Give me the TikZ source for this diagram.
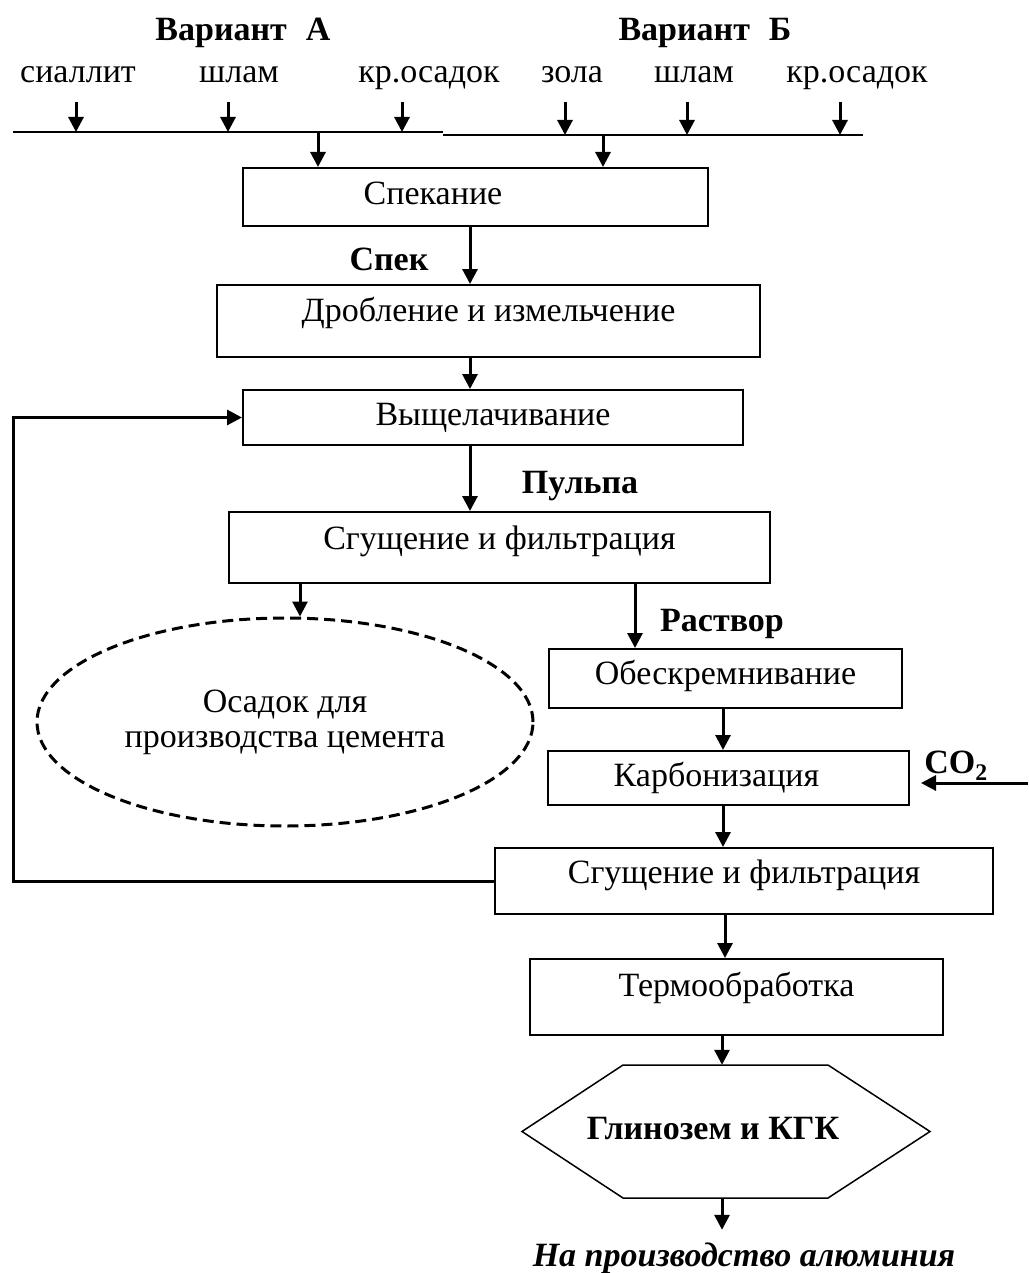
\documentclass[tikz,border=0pt]{standalone}
\usepackage{fontspec}
\setmainfont{Liberation Serif}
\usetikzlibrary{arrows.meta,shapes.geometric}
\newcommand{\flowfs}{\fontsize{34}{35}\selectfont}
\tikzset{
  stage/.style={draw, line width=2pt, inner sep=0pt, font=\flowfs, text height=24pt, text depth=8pt},
  feed/.style={inner sep=0pt, font=\flowfs, text height=24pt, text depth=8pt},
  stream/.style={inner sep=0pt, font=\flowfs\bfseries, text height=24pt, text depth=8pt},
  flow/.style={line width=3pt, -{Triangle[length=15pt,width=15pt]}},
}
\begin{document}
\begin{tikzpicture}[x=1pt,y=-1pt]
\useasboundingbox (0,0) rectangle (1028,1273) ;

%variant headers
\node [stream] (varA) at (243,33) {Вариант\hspace{19pt}А} ;
\node [stream] (varB) at (705,33) {Вариант\hspace{19pt}Б} ;

%raw materials
\node [feed] (sial) at (78,75) {сиаллит} ;
\node [feed] (shlamA) at (239,75) {шлам} ;
\node [feed] (osadA) at (429,75) {кр.осадок} ;
\node [feed] (zola) at (572,75) {зола} ;
\node [feed] (shlamB) at (694,75) {шлам} ;
\node [feed] (osadB) at (857,75) {кр.осадок} ;

%collecting lines
\coordinate (busA) at (13,132) ;
\coordinate (busAe) at (443,132) ;
\coordinate (busB) at (443,135) ;
\coordinate (busBe) at (863,135) ;
\draw [line width=2pt] (busA) -- (busAe) ;
\draw [line width=2pt] (busB) -- (busBe) ;

\draw [flow,shorten <=11pt] (sial.south -| 76,0) -- (busA -| 76,0) ;
\draw [flow,shorten <=11pt] (shlamA.south -| 228,0) -- (busA -| 228,0) ;
\draw [flow,shorten <=11pt] (osadA.south -| 402,0) -- (busA -| 402,0) ;
\draw [flow,shorten <=11pt] (zola.south -| 565,0) -- (busB -| 565,0) ;
\draw [flow,shorten <=11pt] (shlamB.south -| 687,0) -- (busB -| 687,0) ;
\draw [flow,shorten <=11pt] (osadB.south -| 840,0) -- (busB -| 840,0) ;

%process stages
\node [stage,minimum width=465pt,minimum height=58pt] (spek) at (475.5,197) {Спекание\hspace*{85pt}} ;
\node [stage,minimum width=543pt,minimum height=72pt,text depth=24pt] (drob) at (488.5,321) {Дробление и измельчение} ;
\node [stage,minimum width=500pt,minimum height=55pt] (vysh) at (493,417.5) {Выщелачивание} ;
\node [stage,minimum width=541pt,minimum height=71pt,text depth=20pt] (sgush) at (499.5,547.5) {Сгущение и фильтрация} ;
\node [stage,minimum width=353pt,minimum height=59pt,text depth=13pt] (obes) at (725.5,678.5) {Обескремнивание} ;
\node [stage,minimum width=361pt,minimum height=54pt] (karb) at (728.5,778) {Карбонизация\hspace*{24pt}} ;
\node [stage,minimum width=498pt,minimum height=66pt,text depth=20pt] (sgushB) at (744,881) {Сгущение и фильтрация} ;
\node [stage,minimum width=413pt,minimum height=76pt,text depth=26pt] (term) at (736.5,997) {Термообработка} ;

%cement residue
\node [ellipse,draw,dashed,line width=3pt,dash pattern=on 11pt off 6pt,
  minimum width=496pt,minimum height=208pt,inner sep=0pt,align=center,font=\flowfs]
  (osad) at (285,722) {Осадок для\\производства цемента} ;

%product
\node [stream,minimum height=133pt] (glin) at (725.5,1131.5) {Глинозем и КГК\hspace*{25pt}} ;
\draw [line width=1.5pt] ([shift={(-102.5,-66.5)}]glin.center) -- ([shift={(102.5,-66.5)}]glin.center)
  -- ([shift={(204.5,0)}]glin.center) -- ([shift={(102.5,66.5)}]glin.center)
  -- ([shift={(-102.5,66.5)}]glin.center) -- ([shift={(-203.5,0)}]glin.center) -- cycle ;
\node [stream,font=\flowfs\bfseries\itshape] (alum) at (744,1258) {На производство алюминия} ;

%main flow
\draw [flow] (busA -| 318,0) -- (spek.north -| 318,0) ;
\draw [flow] (busB -| 603,0) -- (spek.north -| 603,0) ;
\draw [flow] (spek.south -| 470,0) -- (drob.north -| 470,0) ;
\draw [flow] (drob.south -| 470,0) -- (vysh.north -| 470,0) ;
\draw [flow] (vysh.south -| 470,0) -- (sgush.north -| 470,0) ;
\draw [flow] (sgush.south -| 300,0) -- (osad.north -| 300,0) ;
\draw [flow] (sgush.south -| 635,0) -- (obes.north -| 635,0) ;
\draw [flow] (obes.south -| 723,0) -- (karb.north -| 723,0) ;
\draw [flow] (karb.south -| 723,0) -- (sgushB.north -| 723,0) ;
\draw [flow] (sgushB.south -| 725,0) -- (term.north -| 725,0) ;
\draw [flow] (term.south -| 722,0) -- (glin.north -| 722,0) ;
\draw [flow,shorten >=12pt] (glin.south -| 722,0) -- (alum.north -| 722,0) ;

%stream labels
\node [stream] (spekl) at (389,262) {Спек} ;
\node [stream] (pulpa) at (580,485) {Пульпа} ;
\node [stream] (rastv) at (722,623) {Раствор} ;

%carbon dioxide
\coordinate (co2in) at (1028,783) ;
\draw [flow,shorten >=11pt] (co2in) -- (co2in -| karb.east) ;
\node [stream] (co2) at (956,765) {CO\textsubscript{2}} ;

%return line
\coordinate (loop) at (13,0) ;
\draw [flow] (sgushB.west) -- (sgushB.west -| loop) |- (vysh.west) ;

\end{tikzpicture}
\end{document}
